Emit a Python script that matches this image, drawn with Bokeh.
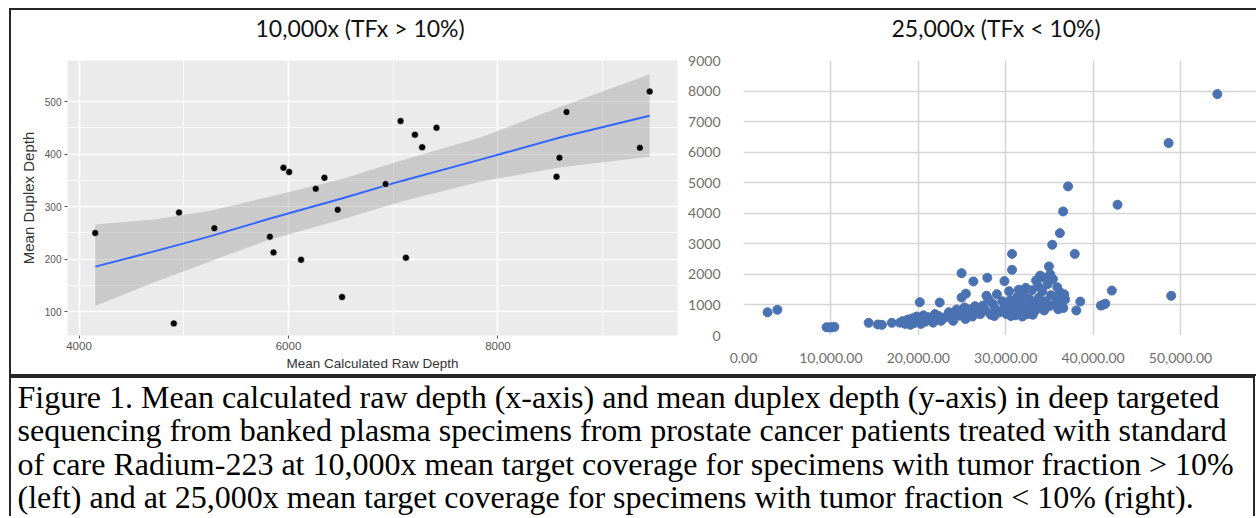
from bokeh.plotting import figure
from bokeh.layouts import column, row
from bokeh.models import Range1d, NumeralTickFormatter, FixedTicker, ColumnDataSource
from bokeh.embed import file_html
from bokeh.resources import INLINE
from bokeh.core.properties import value

# ---------------- data ----------------
left_title = "10,000x (TFx > 10%)"
right_title = "25,000x (TFx < 10%)"
left_xlabel = "Mean Calculated Raw Depth"
left_ylabel = "Mean Duplex Depth"

left_raw = [4155, 4905, 4955, 5292, 5822, 5857, 5952, 6006, 6120, 6260, 6343, 6470,
            6511, 6927, 7070, 7121, 7207, 7276, 7413, 8559, 8587, 8654, 9355, 9448]
left_duplex = [250, 78, 289, 259, 243, 213, 374, 366, 199, 334, 355, 294,
               128, 343, 463, 203, 437, 413, 450, 357, 393, 480, 412, 519]

fit_x = [4155, 4700, 5240, 5800, 6500, 7080, 7840, 8600, 9448]
fit_y = [186, 214, 243, 276, 315, 349, 390, 432, 473]
fit_lo = [111, 155, 195, 236, 275, 310, 348, 375, 395]
fit_hi = [266, 275, 292, 318, 352, 388, 432, 490, 552]

left_xticks = [4000, 6000, 8000]
left_xminor = [5000, 7000, 9000]
left_yticks = [100, 200, 300, 400, 500]
left_yminor = [150, 250, 350, 450]

right_x = [2750, 3880, 9500, 9800, 10100, 10400, 14320, 15380, 15840, 16970,
           17900, 18200, 18500, 18800, 19000, 19300, 19500, 19800, 20000, 20300, 20500, 20800,
           21100, 21400, 21700, 22000, 22300, 22600, 22900, 19100, 20600, 21900, 20170, 22450,
           23200, 23500, 23800, 24100, 24400, 24700, 25000, 25300, 25600, 25900, 26200, 26500,
           26800, 24000, 25400, 24950, 24950, 25450, 26300,
           27100, 27400, 27700, 28000, 28300, 28500, 28800, 29000, 29300, 29600, 29900, 27800,
           28700, 27900, 29860,
           30100, 30300, 30500, 30600, 30800, 31000, 31100, 31300, 31400, 31600, 31700, 31900,
           32000, 32200, 32400, 32500, 32700, 32800, 33000, 33100, 33300, 33400, 30400, 31500,
           32300, 30730, 30730,
           33600, 33800, 34000, 34200, 34400, 34600, 34800, 35000, 35200, 35400, 35600, 35800,
           36000, 36200, 36400, 36600, 36800, 34300, 35100, 35900, 33700, 36700,
           33480, 33940, 34950, 35330, 36200, 36570, 37140, 37900, 38530, 38080, 40900, 41200,
           41400, 42150, 42800, 48940, 48640, 54220]
right_y = [760, 840, 270, 265, 270, 280, 415, 360, 350, 415,
           420, 470, 380, 520, 440, 560, 400, 620, 480, 380, 560, 450,
           600, 500, 420, 560, 640, 480, 560, 350, 660, 700, 1090, 1080,
           620, 760, 560, 700, 850, 650, 780, 920, 700, 850, 620, 960,
           780, 480, 540, 2040, 1240, 1370, 1770,
           700, 980, 820, 1200, 680, 1050, 880, 1350, 760, 1120, 930, 1300,
           640, 1890, 1780,
           700, 950, 1150, 640, 800, 1020, 660, 1250, 880, 740, 1100, 620,
           1350, 860, 1000, 700, 1200, 900, 1480, 680, 1060, 820, 1450, 1500,
           1560, 2670, 2150,
           920, 1240, 1020, 1450, 820, 1120, 1680, 960, 1320, 1850, 1020, 1220,
           860, 1420, 1060, 900, 1180, 1900, 2000, 1580, 1620, 1350,
           1800, 1960, 2260, 2970, 3350, 4060, 4880, 2670, 1110, 820, 980, 1010,
           1040, 1470, 4280, 1300, 6300, 7900]

right_xticks = [0, 10000, 20000, 30000, 40000, 50000, 60000]
right_yticks = [0, 1000, 2000, 3000, 4000, 5000, 6000, 7000, 8000, 9000]

caption_lines = [
    "Figure 1.  Mean calculated raw depth (x-axis) and mean duplex depth (y-axis) in deep targeted",
    "sequencing from banked plasma specimens from prostate cancer patients treated with standard",
    "of care Radium-223 at 10,000x mean target coverage for specimens with tumor fraction > 10%",
    "(left) and at 25,000x mean target coverage for specimens with tumor fraction < 10% (right).",
]

BORDER = "2px solid #262626"
TOP_W = 1245


def text_strip(width, height):
    """a bare figure whose data space equals its pixel space (y downwards)"""
    f = figure(width=width, height=height, output_backend="svg", toolbar_location=None,
               x_range=Range1d(0, width), y_range=Range1d(height, 0),
               min_border=0, min_border_left=0, min_border_right=0,
               min_border_top=0, min_border_bottom=0)
    f.axis.visible = False
    f.grid.visible = False
    f.outline_line_color = None
    f.background_fill_color = "white"
    f.border_fill_color = "white"
    return f


# ---------------- panel titles strip ----------------
T = text_strip(TOP_W, 40)
tsrc = ColumnDataSource(dict(x=[244, 880], y=[17, 17], t=[left_title, right_title]))
T.text(x="x", y="y", text="t", source=tsrc, text_font=value("Lato"),
       text_font_size="23px", text_color="#111111", text_baseline="alphabetic",
       text_align="left")

# ---------------- left panel (ggplot style) ----------------
L = figure(width=674, height=324, output_backend="svg", toolbar_location=None,
           x_range=Range1d(3890, 9714), y_range=Range1d(55, 578),
           min_border_left=56, min_border_right=8, min_border_top=8, min_border_bottom=36)
L.background_fill_color = "#EBEBEB"
L.border_fill_color = "white"
L.outline_line_color = None

L.xaxis.ticker = FixedTicker(ticks=left_xticks, minor_ticks=left_xminor)
L.yaxis.ticker = FixedTicker(ticks=left_yticks, minor_ticks=left_yminor)
for g in (L.xgrid, L.ygrid):
    g.grid_line_color = "white"
    g.grid_line_width = 1.6
    g.minor_grid_line_color = "white"
    g.minor_grid_line_width = 0.8
for ax in (L.xaxis, L.yaxis):
    ax.axis_line_color = None
    ax.major_tick_out = 3
    ax.major_tick_in = 0
    ax.major_tick_line_color = "#555555"
    ax.minor_tick_line_color = None
    ax.major_label_text_font = "Liberation Sans"
    ax.major_label_text_color = "#555555"
    ax.axis_label_text_font = "Liberation Sans"
    ax.axis_label_text_font_style = "normal"
    ax.axis_label_text_color = "#333333"
    ax.major_label_standoff = 2
L.xaxis.major_label_text_font_size = "11.5px"
L.yaxis.major_label_text_font_size = "10px"
L.xaxis.axis_label_text_font_size = "13.5px"
L.yaxis.axis_label_text_font_size = "15px"
L.xaxis.axis_label = left_xlabel
L.yaxis.axis_label = left_ylabel
L.xaxis.axis_label_standoff = 3
L.yaxis.axis_label_standoff = 5

L.varea(x=fit_x, y1=fit_lo, y2=fit_hi, fill_color="#999999", fill_alpha=0.4)
L.line(fit_x, fit_y, line_color="#3366FF", line_width=2)
L.scatter(left_raw, left_duplex, size=7, fill_color="black", line_color="white",
          line_alpha=0.6, line_width=1)

# ---------------- right panel (Excel style) ----------------
R = figure(width=571, height=324, output_backend="svg", toolbar_location=None,
           x_range=Range1d(0, 58700), y_range=Range1d(0, 9000),
           min_border_left=52, min_border_right=0, min_border_top=10, min_border_bottom=39)
R.background_fill_color = "white"
R.border_fill_color = "white"
R.outline_line_color = None
R.xaxis.ticker = FixedTicker(ticks=right_xticks)
R.yaxis.ticker = FixedTicker(ticks=right_yticks)
R.xaxis.formatter = NumeralTickFormatter(format="0,0.00")
for g in (R.xgrid, R.ygrid):
    g.grid_line_color = "#D6D6D6"
    g.grid_line_width = 1.6
for ax in (R.xaxis, R.yaxis):
    ax.axis_line_color = None
    ax.major_tick_line_color = None
    ax.minor_tick_line_color = None
    ax.major_label_text_font = "Lato"
    ax.major_label_text_font_size = "14px"
    ax.major_label_text_color = "#6E6E6E"
R.yaxis.major_label_standoff = 17
R.xaxis.major_label_standoff = 11

R.scatter(right_x, right_y, size=9, fill_color="#4A72B2", line_color="#4A72B2")

# ---------------- caption ----------------
C = text_strip(1242, 138)
line_gap = 33.6
first_base = 18
src = ColumnDataSource(dict(
    x=[6] * len(caption_lines),
    y=[first_base + i * line_gap for i in range(len(caption_lines))],
    t=caption_lines))
C.text(x="x", y="y", text="t", source=src, text_font=value("Liberation Serif"),
       text_font_size="32px", text_color="black", text_baseline="alphabetic",
       text_align="left")

top = column(T, row(L, R), styles={"margin-left": "9px", "margin-top": "8px",
                                   "border-top": BORDER, "border-left": BORDER,
                                   "border-bottom": BORDER})
cap = column(C, styles={"margin-left": "9px", "border-top": BORDER,
                        "border-left": BORDER, "border-right": BORDER})
page = column(top, cap)

open("out.html", "w").write(file_html(page, INLINE))
